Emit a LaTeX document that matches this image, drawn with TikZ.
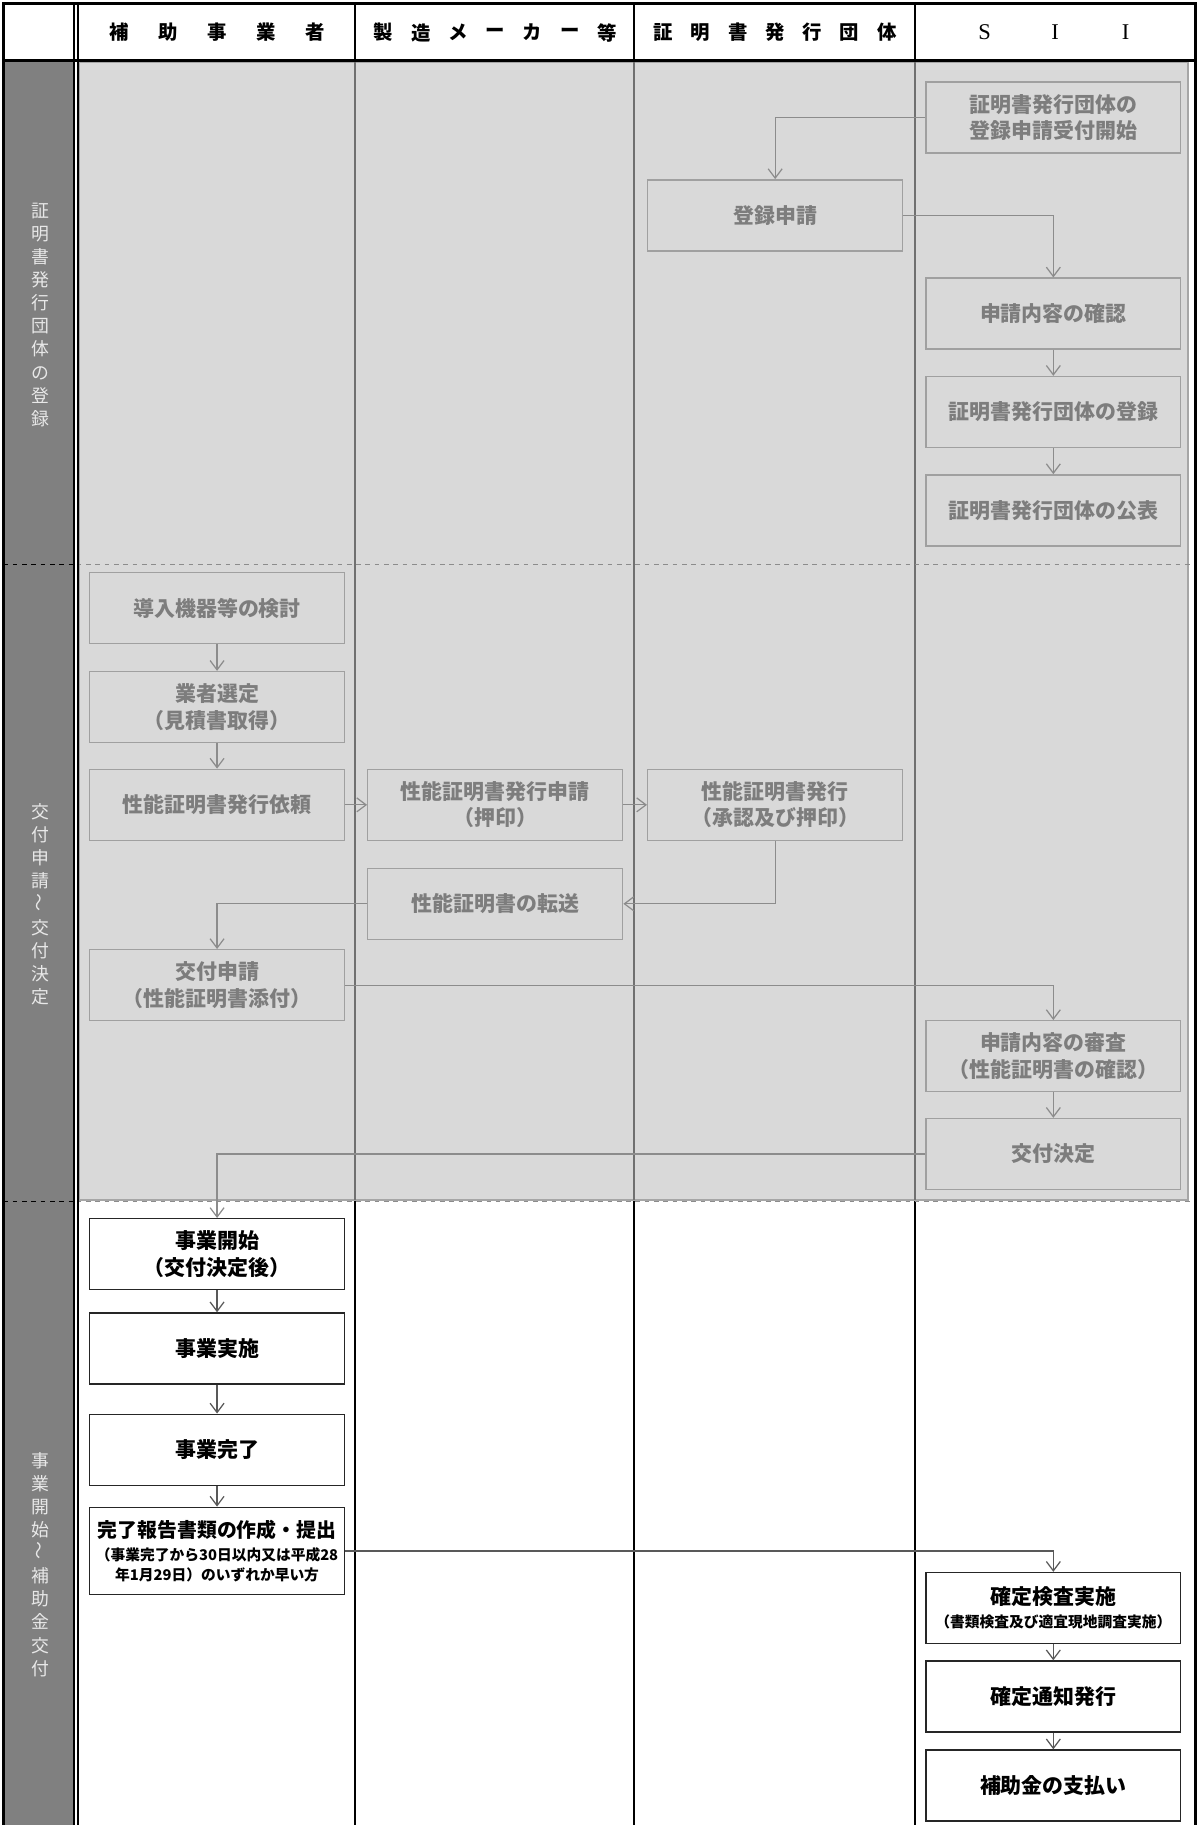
\documentclass[tikz,border=0pt]{standalone}
\usepackage{fontspec}
\setmainfont{Noto Sans CJK JP}
\newfontfamily\siifont{Liberation Serif}
\usetikzlibrary{arrows.meta}

\definecolor{laneshade}{RGB}{217,217,217}
\definecolor{lanegray}{RGB}{128,128,128}
\definecolor{laneedge}{RGB}{166,166,166}
\definecolor{divgray}{RGB}{112,112,112}
\definecolor{boxedge}{RGB}{160,160,160}
\definecolor{boxtext}{RGB}{125,125,125}
\definecolor{linkgray}{RGB}{140,140,140}
\definecolor{sidetext}{RGB}{232,232,232}

\tikzset{
  greybox/.style={draw=boxedge, line width=0.9pt, fill=laneshade, text=boxtext,
    minimum width=164.25pt, minimum height=45.75pt, inner sep=0pt, align=center,
    font=\fontsize{13.5}{17}\selectfont\bfseries},
  whitebox/.style={greybox, draw=black!85, fill=white, text=black, line width=0.8pt},
  flow/.style={draw=linkgray, line width=0.8pt, -{Straight Barb[length=6pt,width=9pt]}},
  flowdark/.style={flow, draw=black!65},
  head/.style={font=\fontsize{12.5}{15}\selectfont\bfseries},
  side/.style={text=sidetext, align=center, inner sep=0pt, font=\fontsize{11.5}{14.9}\selectfont},
}

\begin{document}
\begin{tikzpicture}[x=0.75pt,y=0.75pt,yscale=-1,xscale=1]
\useasboundingbox (0,0) rectangle (1031,1568);

%Shape: Rectangle (label column)
\fill[lanegray] (3,52) rectangle (63.5,1570);
%Shape: Rectangle (shaded lanes)
\draw[draw=laneedge, fill=laneshade, line width=1.2pt] (68,53) rectangle (1021,1031);

%Straight Lines (lane dividers)
\foreach \x in {305,545,786} {
  \draw[line width=1.5pt] (\x,3) -- (\x,52);
  \draw[line width=1.5pt, divgray] (\x,52) -- (\x,1031);
  \draw[line width=1.5pt] (\x,1032) -- (\x,1570);
}
%Straight Lines (dashed section borders)
\foreach \y in {485,1032} {
  \draw[dashed, line width=0.7pt] (3,\y) -- (66,\y);
  \draw[dashed, line width=0.7pt, black!45] (66,\y) -- (1027,\y);
}
%Straight Lines (frame)
\draw[line width=1.8pt] (3,52) -- (1027,52);
\draw[line width=1pt] (63.5,3) -- (63.5,1570);
\draw[line width=1pt] (67,3) -- (67,1570);
\draw[line width=2.2pt] (3,1570) -- (3,3) -- (1027,3) -- (1027,1570);

% Text Node (headers)
\foreach \c [count=\i] in {補,助,事,業,者}
  \node[head] (hsub\i) at (186.5+42*\i-126,28) {\c};
\foreach \c [count=\i] in {製,造,メ,ー,カ,ー,等}
  \node[head] (hmak\i) at (425.5+32*\i-128,28) {\c};
\foreach \c [count=\i] in {証,明,書,発,行,団,体}
  \node[head] (hcer\i) at (666+32*\i-128,28) {\c};
\foreach \c [count=\i] in {S,I,I}
  \node[font=\siifont\fontsize{14.5}{16}\selectfont] (hsii\i) at (906.5+60.5*\i-121,28) {\c};

% Text Node (sections)
\node[side] (lane1) at (35,270.5) {証\\明\\書\\発\\行\\団\\体\\の\\登\\録};
\node[side] (lane2) at (35,777) {交\\付\\申\\請\\\rotatebox{90}{～}\\交\\付\\決\\定};
\node[side] (lane3) at (35,1344) {事\\業\\開\\始\\\rotatebox{90}{～}\\補\\助\\金\\交\\付};

% registration
\node[greybox] (regopen) at (905,101) {証明書発行団体の\\登録申請受付開始};
\node[greybox] (regapply) at (666,185) {登録申請};
\node[greybox] (regcheck) at (905,269.5) {申請内容の確認};
\node[greybox] (regdone) at (905,354) {証明書発行団体の登録};
\node[greybox] (regpub) at (905,438.5) {証明書発行団体の公表};

% application
\node[greybox] (study) at (186.5,522.5) {導入機器等の検討};
\node[greybox] (vendor) at (186.5,607.5) {業者選定\\（見積書取得）};
\node[greybox] (certreq) at (186.5,691.5) {性能証明書発行依頼};
\node[greybox] (certapply) at (425.5,691.5) {性能証明書発行申請\\（押印）};
\node[greybox] (certissue) at (666,691.5) {性能証明書発行\\（承認及び押印）};
\node[greybox] (certfwd) at (425.5,776.5) {性能証明書の転送};
\node[greybox] (grantapply) at (186.5,846.5) {交付申請\\（性能証明書添付）};
\node[greybox] (review) at (905,907.5) {申請内容の審査\\（性能証明書の確認）};
\node[greybox] (decision) at (905,991.5) {交付決定};

% project
\node[whitebox] (start) at (186.5,1077.5) {事業開始\\（交付決定後）};
\node[whitebox] (run) at (186.5,1158.5) {事業実施};
\node[whitebox] (finish) at (186.5,1245.5) {事業完了};
\node[whitebox, minimum height=56.25pt, font=\fontsize{9.5}{13}\selectfont\bfseries] (report) at (186.5,1332.5)
  {{\fontsize{12.8}{16}\selectfont 完了報告書類の作成・提出}\\[2pt]（事業完了から30日以内又は平成28\\年1月29日）のいずれか早い方};
\node[whitebox, font=\fontsize{9.5}{13}\selectfont\bfseries] (inspect) at (905,1381.5)
  {{\fontsize{13.5}{17}\selectfont 確定検査実施}\\[1.5pt]（書類検査及び適宜現地調査実施）};
\node[whitebox] (notice) at (905,1457.5) {確定通知発行};
\node[whitebox] (pay) at (905,1534) {補助金の支払い};

%Straight Lines (connectors)
\draw[flow] (regopen.west) -| (regapply.north);
\draw[flow] (regapply.east) -| (regcheck.north);
\draw[flow] (regcheck) -- (regdone);
\draw[flow] (regdone) -- (regpub);
\draw[flow] (study) -- (vendor);
\draw[flow] (vendor) -- (certreq);
\draw[flow] (certreq) -- (certapply);
\draw[flow] (certapply) -- (certissue);
\draw[flow] (certissue.south) |- (certfwd.east);
\draw[flow] (certfwd.west) -| (grantapply.north);
\draw[flow] (grantapply.east) -| (review.north);
\draw[flow] (review) -- (decision);
\draw[flow] (decision.west) -| (start.north);
\draw[flowdark] (start) -- (run);
\draw[flowdark] (run) -- (finish);
\draw[flowdark] (finish) -- (report);
\draw[flowdark] (report.east) -| (inspect.north);
\draw[flowdark] (inspect) -- (notice);
\draw[flowdark] (notice) -- (pay);

\end{tikzpicture}
\end{document}
